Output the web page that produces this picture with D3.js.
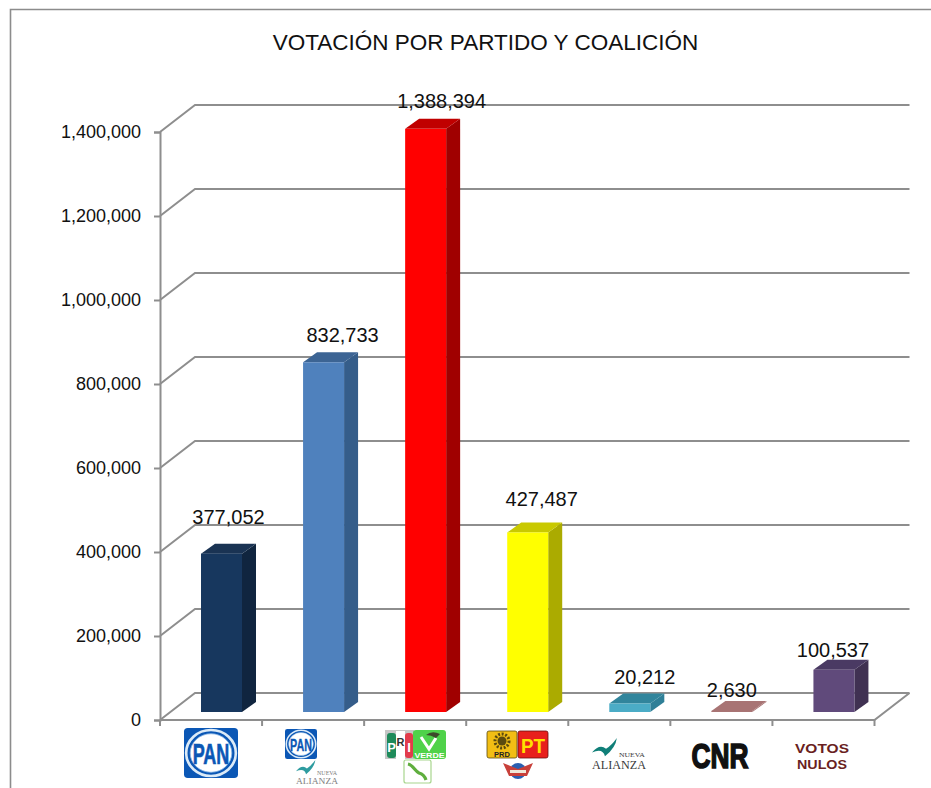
<!DOCTYPE html>
<html><head><meta charset="utf-8">
<script src="https://cdn.jsdelivr.net/npm/d3@7"></script>
<style>html,body{margin:0;padding:0;background:#fff}svg{display:block}text{font-family:"Liberation Sans",Arial,sans-serif}</style>
</head><body><svg id="c" width="931" height="788"></svg>
<script>
const chartTitle = "VOTACIÓN POR PARTIDO Y COALICIÓN";
const categories = ["PAN","PAN-NA","PRI-PVEM-PC","PRD-PT","NA","CNR","NULOS"];
const votes = [377052,832733,1388394,427487,20212,2630,100537];
const yTicks = [0,200000,400000,600000,800000,1000000,1200000,1400000];
const faceColors = ["#17375E","#4F81BD","#FF0000","#FFFF00","#4BACC6","#A87474","#604A7B"];
const sideColors = ["#10253F","#355D8A","#A00000","#ABAB00","#2F7F97","#A87474","#403152"];
const topColors  = ["#1A3353","#3C6494","#C00000","#C9C900","#31859C","#A87474","#4A3A63"];
const labelDx = [7,19,16,14,15,0,-1];
const labelDy = [27,17,18,23,17,11,10];

const svg = d3.select("#c");
const x = d3.scaleBand().domain(categories).range([160,874.5]);
const y = d3.scaleLinear().domain([0,1400000]).range([720,132]);
const fmt = d3.format(",");
const depthX = 35, depthY = 27, barDX = 14, barDY = 10, barLift = 8, barW = 41, barOff = 41;
const grey = "#8E8E8E";

svg.append("path").attr("d","M10.5,788V9.5H931").attr("fill","none").attr("stroke","#8C8C8C").attr("stroke-width",1.6);

svg.append("text").attr("x",485.5).attr("y",49.5).attr("text-anchor","middle")
  .attr("font-size",22.5).attr("fill","#111").text(chartTitle);

const g = svg.append("g").attr("fill","none").attr("stroke",grey).attr("stroke-width",2);
g.selectAll("path.grid").data(yTicks).join("path").attr("class","grid")
  .attr("d",t=>`M160,${y(t)}L${160+depthX},${y(t)-depthY}H${x.range()[1]+depthX}`);
g.append("path").attr("d",`M160,${y(0)}H${x.range()[1]}L${x.range()[1]+depthX},${y(0)-depthY}`);

const yAxis = d3.axisLeft(y).tickValues(yTicks).tickFormat(fmt).tickSize(6).tickPadding(13);
const ya = svg.append("g").attr("transform","translate(160,0)").call(yAxis);
ya.select(".domain").attr("stroke",grey).attr("stroke-width",2);
ya.selectAll(".tick line").attr("stroke",grey).attr("stroke-width",2);
ya.selectAll(".tick text").attr("font-size",18).attr("fill","#111")
  .attr("font-family",'"Liberation Sans",Arial,sans-serif');
const bounds = categories.map(c=>x(c)).concat([x.range()[1]]);
svg.append("g").selectAll("line").data(bounds).join("line")
  .attr("x1",d=>d).attr("x2",d=>d).attr("y1",y(0)).attr("y2",y(0)+6)
  .attr("stroke",grey).attr("stroke-width",2);

const bars = svg.append("g").selectAll("g").data(categories).join("g");
bars.each(function(c,i){
  const b = d3.select(this), v = votes[i];
  const l = x(c)+barOff, r = l+barW, t = y(v)-barLift, bt = y(0)-barLift;
  b.append("path").attr("fill",sideColors[i]).attr("d",`M${r},${bt}L${r+barDX},${bt-barDY}V${t-barDY}L${r},${t}Z`);
  b.append("path").attr("fill",topColors[i]).attr("d",`M${l},${t}L${l+barDX},${t-barDY}H${r+barDX}L${r},${t}Z`);
  b.append("rect").attr("x",l).attr("y",t).attr("width",barW).attr("height",bt-t).attr("fill",faceColors[i]);
  b.append("text").attr("x",l+barW/2+labelDx[i]).attr("y",t-barDY-labelDy[i]+7).attr("text-anchor","middle")
   .attr("font-size",20).attr("fill","#111").text(fmt(v));
});

const L = svg.append("g");
function T(px,py,s,size,fill,opt={}){
  const e = L.append("text").attr("x",px).attr("y",py).attr("font-size",size).attr("fill",fill)
   .attr("text-anchor",opt.anchor||"middle").attr("font-weight",opt.weight||"bold").text(s);
  if(opt.family) e.style("font-family",opt.family);
  if(opt.len) e.attr("textLength",opt.len).attr("lengthAdjust","spacingAndGlyphs");
  return e;
}
function R(a,b,w,h,f,rx=0){return L.append("rect").attr("x",a).attr("y",b).attr("width",w).attr("height",h).attr("fill",f).attr("rx",rx);}
function panLogo(a,b,w,h,fs){
  R(a,b,w,h,"#0B57B5",w*0.07);
  L.append("ellipse").attr("cx",a+w/2).attr("cy",b+h/2).attr("rx",w*0.46).attr("ry",h*0.46).attr("fill","#0B57B5").attr("stroke","#DCEBF8").attr("stroke-width",w*0.05);
  L.append("ellipse").attr("cx",a+w/2).attr("cy",b+h/2).attr("rx",w*0.385).attr("ry",h*0.385).attr("fill","#fff").attr("stroke","#8DB9E6").attr("stroke-width",w*0.015);
  T(a+w/2,b+h*0.72,"PAN",fs,"#0B57B5",{len:w*0.68}).attr("stroke","#0B57B5").attr("stroke-width",w*0.012);
}
function alianza(a,b,w,gray){
  const c = gray?"#2E9CA0":"#107F78", tc = gray?"#7d7d7d":"#3a3a3a";
  L.append("path").attr("fill",c)
   .attr("d",`M${a},${b+w*.27}Q${a+w*.14},${b+w*.1} ${a+w*.26},${b+w*.2}Q${a+w*.36},${b+w*.14} ${a+w*.46},${b}Q${a+w*.44},${b+w*.18} ${a+w*.24},${b+w*.34}Q${a+w*.2},${b+w*.18} ${a},${b+w*.27}Z`);
  T(a+w*.74,b+w*.36,"NUEVA",w*.125,tc,{weight:"normal",family:"Liberation Serif",len:w*.48});
  T(a+w*.5,b+w*.58,"ALIANZA",w*.22,tc,{weight:"normal",family:"Liberation Serif",len:w*1.0});
}
panLogo(184,728,54,50,29);
panLogo(285,729,32,30,17);
alianza(296,760,42,true);
// PRI
R(385,730,29,29,"#C6C6C6");
R(387,733,9,25,"#1E8A5A",3); R(396,731,9,28,"#fff"); R(405,733,8,25,"#E23B4C",3);
T(391.5,752,"P",13,"#fff");
T(400.5,746,"R",11,"#333");
T(409,752,"I",13,"#fff");
R(413,730,33,29,"#4FD24A",3);
L.append("path").attr("d","M421,737L429,749L436,738").attr("fill","none").attr("stroke","#fff").attr("stroke-width",3);
L.append("path").attr("d","M426,735Q432,730 440,734L436,738Q431,735 426,735Z").attr("fill","#3d4a2a");
T(429.5,757.5,"VERDE",8,"#fff",{len:30});
R(404,760,27,23,"#fff",2).attr("stroke","#A8D68E").attr("stroke-width",1.2);
L.append("path").attr("d","M408,764C413,765 415,771 419,773C423,774 425,777 426,780").attr("fill","none").attr("stroke","#5FAE3E").attr("stroke-width",3.2);
// PRD PT
R(487,731,30,27,"#F2BE14",2).attr("stroke","#5a4a10").attr("stroke-width",.8);
L.append("circle").attr("cx",502).attr("cy",741).attr("r",4.5).attr("fill","#5A4A10");
L.append("circle").attr("cx",502).attr("cy",741).attr("r",7).attr("fill","none").attr("stroke","#5A4A10").attr("stroke-width",3).attr("stroke-dasharray","2 1.6");
T(502,756.5,"PRD",7.5,"#222");
R(518,731,30,27,"#E8201C",2).attr("stroke","#6a1010").attr("stroke-width",.8);
T(533,753,"PT",21,"#FFE000",{len:24});
L.append("ellipse").attr("cx",518).attr("cy",771).attr("rx",8).attr("ry",8).attr("fill","#2A5FB0");
L.append("path").attr("d","M503,763L518,769L533,763L527,776H509Z").attr("fill","#C8403A");
R(510,770,16,3,"#F0E8D8");
// Nueva Alianza
alianza(592,738,54,false);
// CNR
T(720,768,"CNR",35,"#111",{len:57}).attr("stroke","#111").attr("stroke-width",1.6);
// Votos nulos
T(822,753,"VOTOS",13.5,"#6A1F22",{len:54});
T(822,769,"NULOS",13.5,"#6A1F22",{len:50});
</script></body></html>
